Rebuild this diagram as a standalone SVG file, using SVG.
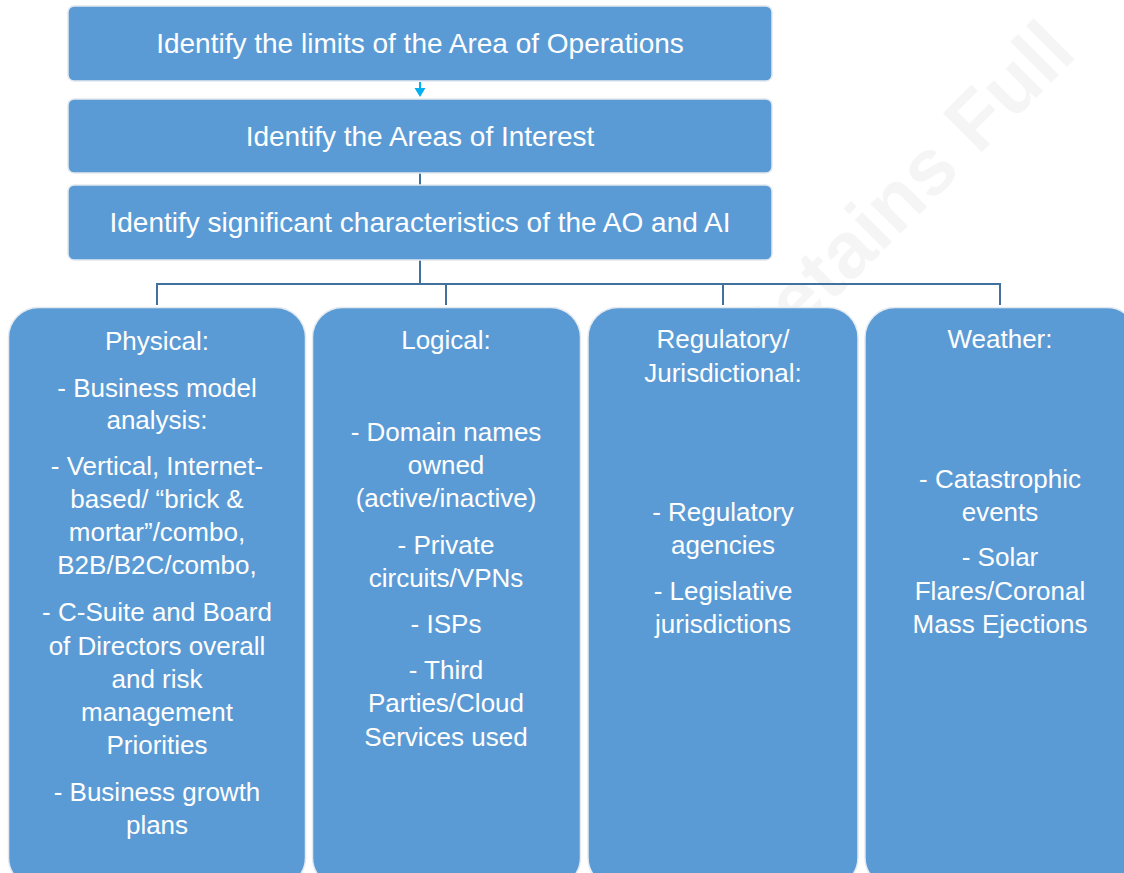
<svg xmlns="http://www.w3.org/2000/svg" width="1124" height="873" viewBox="0 0 1124 873">
<style>
.box{fill:#5B9BD5;stroke:#e4e9f0;stroke-width:1.5}
.t{font-family:"Liberation Sans",Arial,sans-serif;fill:#ffffff;text-anchor:middle}
.top{font-size:28px}
.b{font-size:26px}
.conn{fill:none;stroke:#41719C;stroke-width:2}
.wm{font-family:"Liberation Sans",Arial,sans-serif;font-weight:bold;font-size:80px;fill:#000;fill-opacity:0.04}
</style>
<rect width="1124" height="873" fill="#ffffff"/>
<text class="wm" x="758" y="376" transform="rotate(-45 758 376)">Retains Full</text>

<g id="connectors">
<line x1="420" y1="82" x2="420" y2="89" stroke="#00B0F0" stroke-width="2"/>
<path d="M414.5,88 L425.5,88 L420,97 Z" fill="#00B0F0"/>
<line class="conn" x1="420" y1="173" x2="420" y2="185"/>
<path class="conn" d="M420,260 V284 M157,305 V284 H1000 V305 M446,284 V305 M723,284 V305"/>
</g>

<g id="node-ao">
<rect class="box" x="68" y="6" width="704" height="75" rx="6"/>
<text class="t top" x="420" y="53">Identify the limits of the Area of Operations</text>
</g>
<g id="node-ai">
<rect class="box" x="68" y="99" width="704" height="74" rx="6"/>
<text class="t top" x="420" y="146">Identify the Areas of Interest</text>
</g>
<g id="node-char">
<rect class="box" x="68" y="185" width="704" height="75" rx="6"/>
<text class="t top" x="420" y="232">Identify significant characteristics of the AO and AI</text>
</g>

<g id="node-physical">
<rect class="box" x="8.5" y="307.5" width="297" height="580" rx="30"/>
<text class="t b" x="157" y="350">Physical:</text>
<text class="t b" x="157" y="397">- Business model</text>
<text class="t b" x="157" y="429">analysis:</text>
<text class="t b" x="157" y="475">- Vertical, Internet-</text>
<text class="t b" x="157" y="508">based/ &#8220;brick &amp;</text>
<text class="t b" x="157" y="541">mortar&#8221;/combo,</text>
<text class="t b" x="157" y="574">B2B/B2C/combo,</text>
<text class="t b" x="157" y="621">- C-Suite and Board</text>
<text class="t b" x="157" y="655">of Directors overall</text>
<text class="t b" x="157" y="688">and risk</text>
<text class="t b" x="157" y="721">management</text>
<text class="t b" x="157" y="754">Priorities</text>
<text class="t b" x="157" y="801">- Business growth</text>
<text class="t b" x="157" y="834">plans</text>
</g>

<g id="node-logical">
<rect class="box" x="312.5" y="307.5" width="268" height="580" rx="30"/>
<text class="t b" x="446" y="349">Logical:</text>
<text class="t b" x="446" y="441">- Domain names</text>
<text class="t b" x="446" y="474">owned</text>
<text class="t b" x="446" y="507">(active/inactive)</text>
<text class="t b" x="446" y="554">- Private</text>
<text class="t b" x="446" y="587">circuits/VPNs</text>
<text class="t b" x="446" y="633">- ISPs</text>
<text class="t b" x="446" y="679">- Third</text>
<text class="t b" x="446" y="712">Parties/Cloud</text>
<text class="t b" x="446" y="746">Services used</text>
</g>

<g id="node-regulatory">
<rect class="box" x="588" y="307.5" width="270" height="580" rx="30"/>
<text class="t b" x="723" y="348">Regulatory/</text>
<text class="t b" x="723" y="382">Jurisdictional:</text>
<text class="t b" x="723" y="521">- Regulatory</text>
<text class="t b" x="723" y="554">agencies</text>
<text class="t b" x="723" y="600">- Legislative</text>
<text class="t b" x="723" y="633">jurisdictions</text>
</g>

<g id="node-weather">
<rect class="box" x="865" y="307.5" width="272" height="580" rx="30"/>
<text class="t b" x="1000" y="348">Weather:</text>
<text class="t b" x="1000" y="488">- Catastrophic</text>
<text class="t b" x="1000" y="521">events</text>
<text class="t b" x="1000" y="566">- Solar</text>
<text class="t b" x="1000" y="600">Flares/Coronal</text>
<text class="t b" x="1000" y="633">Mass Ejections</text>
</g>
</svg>
